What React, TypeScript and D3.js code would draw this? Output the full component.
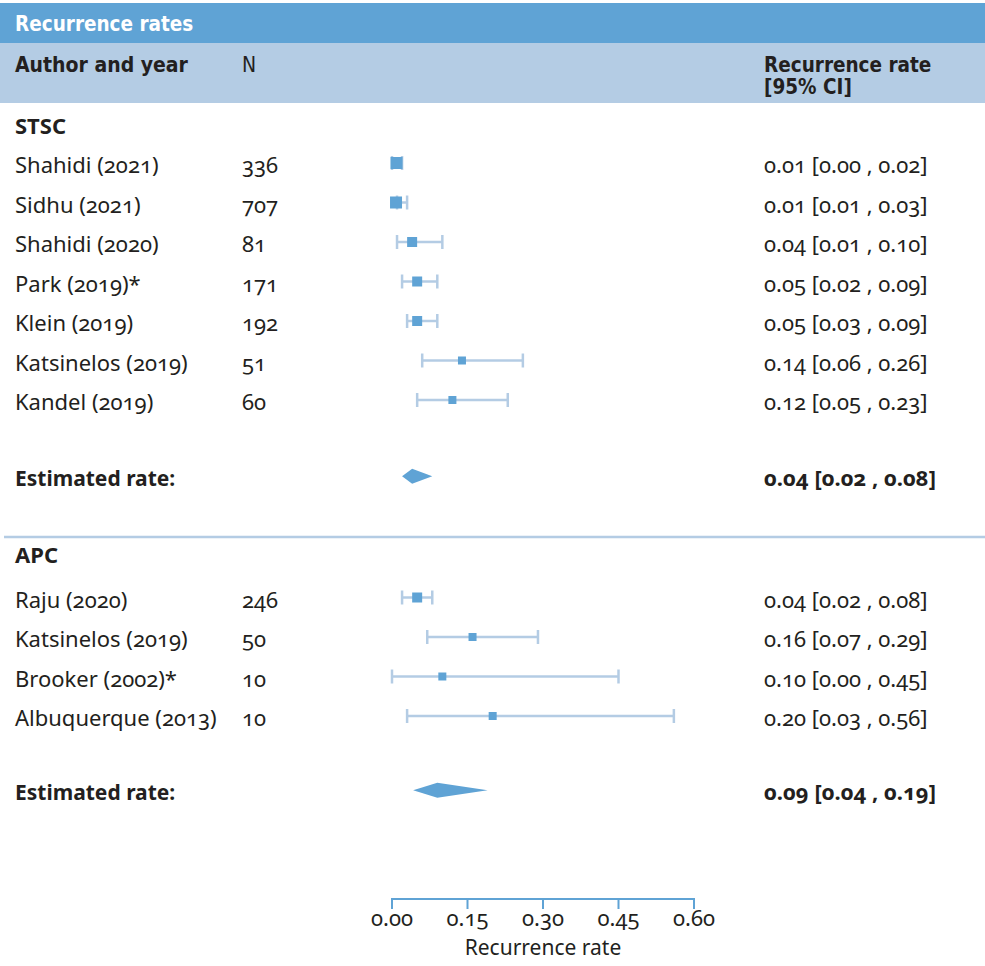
import React from "react";
import * as d3 from "d3";

const W = 985;
const H = 966;

// STSC group
const stscAuthors = ["Shahidi (2021)", "Sidhu (2021)", "Shahidi (2020)", "Park (2019)*", "Klein (2019)", "Katsinelos (2019)", "Kandel (2019)"];
const stscN = ["336", "707", "81", "171", "192", "51", "60"];
const stscEst = [0.009, 0.008, 0.04, 0.05, 0.05, 0.139, 0.12];
const stscLo = [0.0, 0.01, 0.01, 0.02, 0.03, 0.06, 0.05];
const stscHi = [0.02, 0.03, 0.10, 0.09, 0.09, 0.26, 0.23];
const stscSize = [12, 12, 10, 10, 10, 8, 8];
const stscLabels = ["0.01 [0.00 , 0.02]", "0.01 [0.01 , 0.03]", "0.04 [0.01 , 0.10]", "0.05 [0.02 , 0.09]", "0.05 [0.03 , 0.09]", "0.14 [0.06 , 0.26]", "0.12 [0.05 , 0.23]"];
const stscSummary = { est: 0.04, lo: 0.02, hi: 0.08, label: "0.04 [0.02 , 0.08]" };

// APC group
const apcAuthors = ["Raju (2020)", "Katsinelos (2019)", "Brooker (2002)*", "Albuquerque (2013)"];
const apcN = ["246", "50", "10", "10"];
const apcEst = [0.05, 0.16, 0.10, 0.20];
const apcLo = [0.02, 0.07, 0.0, 0.03];
const apcHi = [0.08, 0.29, 0.45, 0.56];
const apcSize = [10, 8, 8, 8];
const apcLabels = ["0.04 [0.02 , 0.08]", "0.16 [0.07 , 0.29]", "0.10 [0.00 , 0.45]", "0.20 [0.03 , 0.56]"];
const apcSummary = { est: 0.09, lo: 0.042, hi: 0.19, label: "0.09 [0.04 , 0.19]" };

const xTicks = [0, 0.15, 0.3, 0.45, 0.6];

const DARK = "#5fa3d5";
const LIGHT = "#b4cce4";
const TEXT = "#231f20";
const BODY_FONT = "'Noto Sans', 'Open Sans', sans-serif";
const HEAD_FONT = "'Liberation Sans Narrow', 'DejaVu Sans Condensed', 'Noto Sans', sans-serif";

export default function App() {
  const x = d3.scaleLinear().domain([0, 0.6]).range([392, 694]);
  const y = d3.scaleLinear().domain([1, 15]).range([163, 716]);

  const colAuthor = 15;
  const colN = 242;
  const colCI = 764;
  const DY = 10;

  const textProps = {
    fontFamily: BODY_FONT,
    fontSize: 22,
    fill: TEXT,
    style: { fontVariantNumeric: "oldstyle-nums" } as React.CSSProperties,
  };

  const studyRows = (authors: string[], ns: string[], est: number[], lo: number[], hi: number[], size: number[], labels: string[], startSlot: number) =>
    authors.map((a, i) => {
      const cy = y(startSlot + i);
      const s = size[i];
      return (
        <g key={a + i}>
          <text x={colAuthor} y={cy + DY} {...textProps}>{a}</text>
          <text x={colN} y={cy + DY} {...textProps}>{ns[i]}</text>
          <text x={colCI} y={cy + DY} {...textProps}>{labels[i]}</text>
          <line x1={x(lo[i])} x2={x(hi[i])} y1={cy} y2={cy} stroke={LIGHT} strokeWidth={2.5} />
          <line x1={x(lo[i])} x2={x(lo[i])} y1={cy - 7} y2={cy + 7} stroke={LIGHT} strokeWidth={2.5} />
          <line x1={x(hi[i])} x2={x(hi[i])} y1={cy - 7} y2={cy + 7} stroke={LIGHT} strokeWidth={2.5} />
          <rect x={x(est[i]) - s / 2} y={cy - s / 2} width={s} height={s} fill={DARK} />
        </g>
      );
    });

  const summary = (sm: { est: number; lo: number; hi: number; label: string }, slot: number, half: number) => {
    const cy = y(slot);
    const pts: [number, number][] = [
      [x(sm.lo), cy],
      [x(sm.est), cy - half],
      [x(sm.hi), cy],
      [x(sm.est), cy + half],
    ];
    const line = d3.line().curve(d3.curveLinearClosed);
    return (
      <g>
        <text x={colAuthor} y={cy + DY} {...textProps} fontSize={21} fontWeight="bold">Estimated rate:</text>
        <text x={colCI} y={cy + DY} {...textProps} fontWeight="bold">{sm.label}</text>
        <path d={line(pts) || ""} fill={DARK} />
      </g>
    );
  };

  return (
    <svg width={W} height={H} style={{ position: "absolute", left: 0, top: 0, background: "#fff" }}>
      {/* header */}
      <rect x={0} y={3} width={W} height={40} fill={DARK} />
      <text x={15} y={31} fontFamily={HEAD_FONT} fontWeight="bold" fontSize={20.5} fill="#fff">Recurrence rates</text>
      <rect x={0} y={43} width={W} height={60} fill={LIGHT} />
      <text x={colAuthor} y={72} fontFamily={HEAD_FONT} fontWeight="bold" fontSize={21} fill={TEXT}>Author and year</text>
      <text x={colN} y={72} fontFamily={HEAD_FONT} fontSize={21} fill={TEXT}>N</text>
      <text x={colCI} y={72} fontFamily={HEAD_FONT} fontWeight="bold" fontSize={20.5} fill={TEXT}>Recurrence rate</text>
      <text x={colCI} y={94} fontFamily={HEAD_FONT} fontWeight="bold" fontSize={20.5} fill={TEXT}>[95% CI]</text>

      {/* STSC */}
      <text x={colAuthor} y={y(0) + DY} {...textProps} fontWeight="bold">STSC</text>
      {studyRows(stscAuthors, stscN, stscEst, stscLo, stscHi, stscSize, stscLabels, 1)}
      {summary(stscSummary, 8.93, 7.5)}

      <line x1={4} x2={W} y1={537} y2={537} stroke={LIGHT} strokeWidth={2.5} />

      {/* APC */}
      <text x={colAuthor} y={y(10.87) + DY} {...textProps} fontWeight="bold">APC</text>
      {studyRows(apcAuthors, apcN, apcEst, apcLo, apcHi, apcSize, apcLabels, 12)}
      {summary(apcSummary, 16.88, 7.5)}

      {/* axis */}
      <g>
        <line x1={x(0)} x2={x(0.6)} y1={899} y2={899} stroke={DARK} strokeWidth={2} />
        {xTicks.map((t) => (
          <g key={t}>
            <line x1={x(t)} x2={x(t)} y1={898} y2={909} stroke={DARK} strokeWidth={2} />
            <text x={x(t)} y={926} textAnchor="middle" {...textProps}>{t.toFixed(2)}</text>
          </g>
        ))}
        <text x={x(0.3)} y={955} textAnchor="middle" {...textProps} fontSize={21}>Recurrence rate</text>
      </g>
    </svg>
  );
}
